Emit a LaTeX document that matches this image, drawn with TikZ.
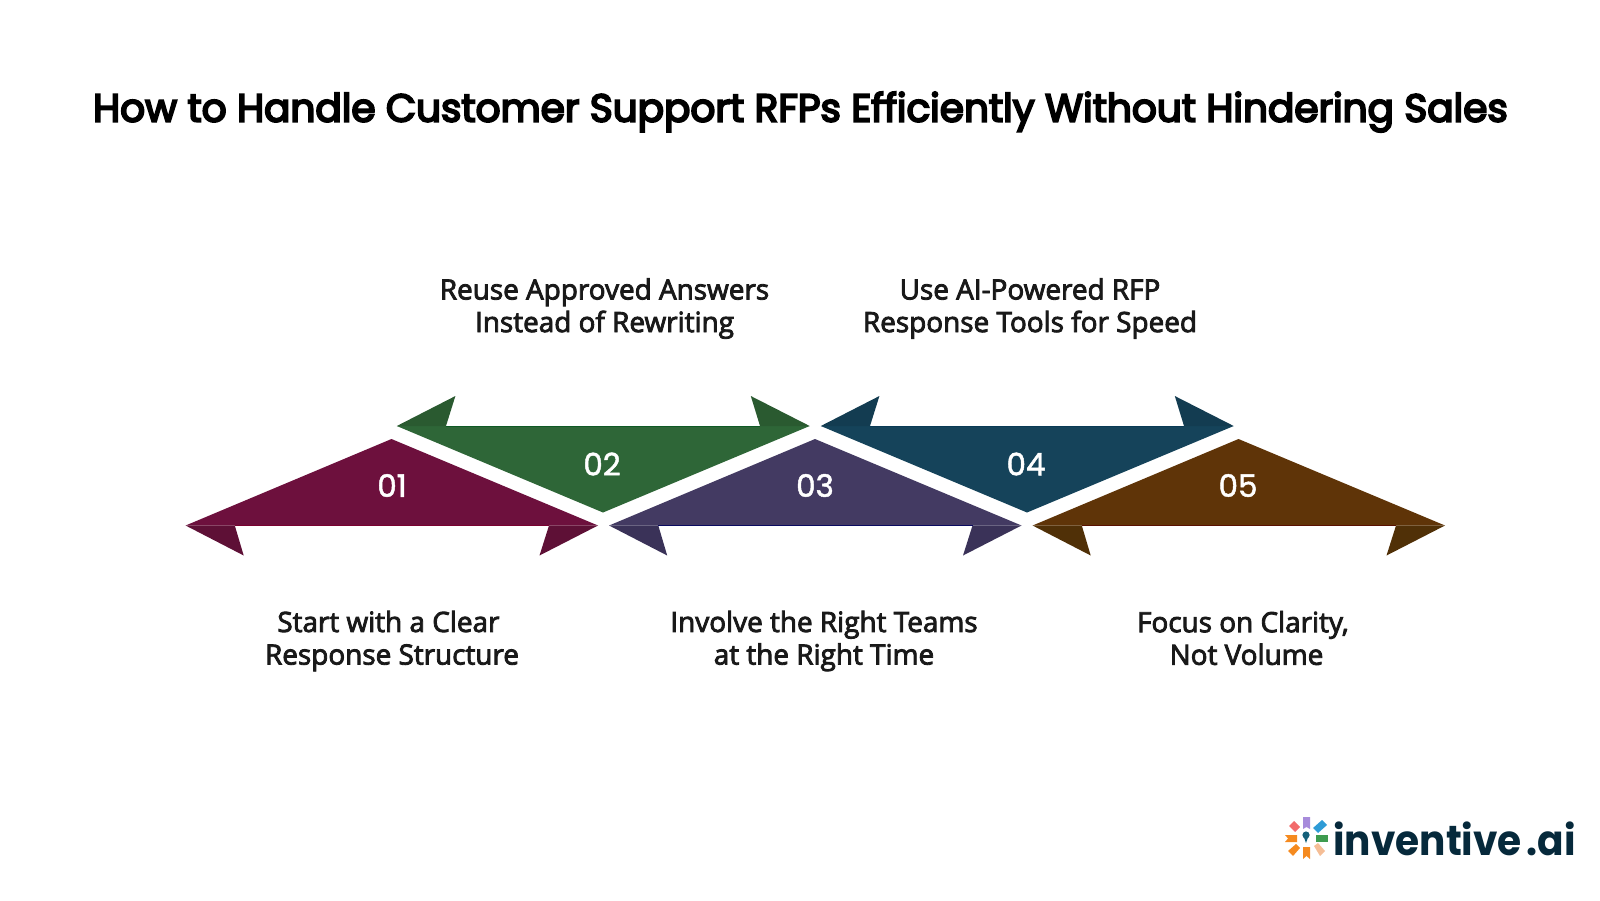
\documentclass[tikz,border=0pt]{standalone}
\usepackage{graphicx}
\usepackage{fontspec}
\setmainfont{Open Sans}
\newfontfamily\labelfont{Open Sans}[FakeBold=3]
\newfontfamily\titlefont{Poppins}[FakeBold=5]
\newfontfamily\numfont{Poppins}[FakeBold=1.5]
\newfontfamily\logofont{Poppins}
\definecolor{cA}{HTML}{6D103D}\definecolor{dA}{HTML}{5E1036}\definecolor{eA}{HTML}{7A0030}
\definecolor{cB}{HTML}{2E6637}\definecolor{dB}{HTML}{2A5A30}\definecolor{eB}{HTML}{0F5A25}
\definecolor{cC}{HTML}{433A62}\definecolor{dC}{HTML}{3A3258}\definecolor{eC}{HTML}{0A0A60}
\definecolor{cD}{HTML}{15435A}\definecolor{dD}{HTML}{133C51}\definecolor{eD}{HTML}{0A3A55}
\definecolor{cE}{HTML}{5F3408}\definecolor{dE}{HTML}{503007}\definecolor{eE}{HTML}{5A1000}
\definecolor{logotext}{HTML}{06293B}
\definecolor{lgP}{HTML}{A78BDB}\definecolor{lgB}{HTML}{2E9BD6}\definecolor{lgG}{HTML}{3E9B4F}
\definecolor{lgS}{HTML}{F5BE96}\definecolor{lgO}{HTML}{F58A1F}\definecolor{lgR}{HTML}{F26B6B}\definecolor{lgT}{HTML}{14607A}
\tikzset{
  titletext/.style={font=\titlefont\fontsize{19.5}{23}\selectfont,text=black,inner sep=0pt},
  steplabel/.style={font=\labelfont\fontsize{13.95}{16.3}\selectfont,text=black!90,align=center,inner sep=0pt},
  stepnum/.style={font=\numfont\fontsize{15.5}{18}\selectfont,text=white,inner sep=0pt},
  logotype/.style={font=\logofont\bfseries\fontsize{21}{25}\selectfont,text=logotext,inner sep=0pt,anchor=base west},
}
\newcommand{\upband}[4]{% xshift, body, dark, edge
  \begin{scope}[shift={(#1,0)}]
    \fill[#2] (185.6,525.5) -- (391.5,439) -- (598,525.5) -- cycle;
    \fill[#3] (185.6,525.5) -- (243.7,555.5) -- (234.8,525.5) -- cycle;
    \fill[#3] (598,525.5) -- (539.5,555.5) -- (549,525.5) -- cycle;
    \draw[#4,line width=0.5pt] (234.8,525.5) -- (549,525.5);
  \end{scope}}
\newcommand{\downband}[4]{%
  \begin{scope}[shift={(#1,0)}]
    \fill[#2] (396.8,426) -- (603,512.5) -- (809.7,426) -- cycle;
    \fill[#3] (396.8,426) -- (455.4,396) -- (446,426) -- cycle;
    \fill[#3] (809.7,426) -- (750.8,396) -- (760,426) -- cycle;
    \draw[#4,line width=0.5pt] (446,426) -- (760,426);
  \end{scope}}
\begin{document}
\begin{tikzpicture}[x=0.5pt,y=-0.5pt]
\useasboundingbox (0,0) rectangle (1600,900);
\node[titletext] (title) at (800.5,112) {How to Handle Customer Support RFPs Efficiently Without Hindering Sales};
\upband{0}{cA}{dA}{eA}
\downband{0}{cB}{dB}{eB}
\upband{423.5}{cC}{dC}{eC}
\downband{424}{cD}{dD}{eD}
\upband{847}{cE}{dE}{eE}
\node[stepnum] (n1) at (392,485.5) {01};
\node[stepnum] (n2) at (602,464) {02};
\node[stepnum] (n3) at (815,485.5) {03};
\node[stepnum] (n4) at (1026,464) {04};
\node[stepnum] (n5) at (1238,485.5) {05};
\node[steplabel] (l2) at (604.5,308.5) {Reuse Approved Answers\\Instead of Rewriting};
\node[steplabel] (l4) at (1030,308.5) {Use AI-Powered RFP\\Response Tools for Speed};
\node[steplabel] (l1) at (392,641) {Start with a Clear\hspace*{3.6pt}\\Response Structure};
\node[steplabel] (l3) at (824,641) {Involve the Right Teams\\at the Right Time};
\node[steplabel] (l5) at (1246.5,638) {Focus on Clarity,\hspace*{3.6pt}\\Not Volume};
% logo mark
\fill[lgP] (1303,817) -- (1310,817) -- (1310,829) -- (1306.5,827) -- (1303,829) -- cycle;
\fill[lgG] (1316,835) -- (1328,835) -- (1328,842) -- (1316,842) -- cycle;
\fill[lgO] (1303,847) -- (1310,847) -- (1310,859) -- (1306.5,856) -- (1303,859) -- cycle;
\fill[lgO] (1285,835) -- (1297,835) -- (1297,842) -- (1285,842) -- (1288,838.5) -- cycle;
\fill[lgB] (1313,828) -- (1322,820) -- (1327,825) -- (1318,833) -- cycle;
\fill[lgS] (1314,846) -- (1318,843) -- (1325,851) -- (1320,856) -- cycle;
\fill[lgO] (1296,844) -- (1300,848) -- (1293,856) -- (1288,851) -- cycle;
\fill[lgR] (1294,821) -- (1300,827) -- (1295,832) -- (1289,826) -- cycle;
\fill[lgT] (1306,835) circle (3.6);
\fill[lgT] (1303.5,836) -- (1308.5,836) -- (1306,843) -- cycle;
\node[logotype] (logo) at (1333,855) {\scalebox{0.93}[1]{inventive\hspace{2.5pt}.ai}};
\end{tikzpicture}
\end{document}
